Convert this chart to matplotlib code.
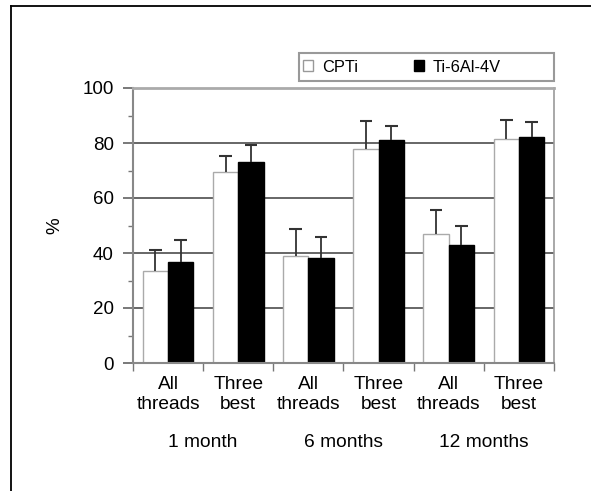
import matplotlib
matplotlib.use("Agg")
import matplotlib.pyplot as plt
import numpy as np
from matplotlib.patches import Rectangle, Patch
from matplotlib.lines import Line2D
from matplotlib.ticker import FixedLocator, NullFormatter
import matplotlib.transforms as mtransforms

plt.rcParams['font.family'] = ['Liberation Sans', 'DejaVu Sans']

categories = ["All\nthreads", "Three\nbest", "All\nthreads", "Three\nbest", "All\nthreads", "Three\nbest"]
periods = ["1 month", "6 months", "12 months"]
series_names = ["CPTi", "Ti-6Al-4V"]
cpti = [33.3, 69.6, 39.0, 77.7, 46.8, 81.5]
cpti_err = [7.8, 5.5, 9.8, 10.4, 8.7, 7.0]
ti = [36.7, 73.1, 38.2, 81.1, 42.9, 82.3]
ti_err = [8.0, 6.3, 7.6, 5.1, 7.0, 5.4]
yticks = [0, 20, 40, 60, 80, 100]

W, H = 591, 491
fig = plt.figure(figsize=(W / 100, H / 100), dpi=100)
ax = fig.add_axes([133 / W, 1 - 363 / H, (554 - 133) / W, (363 - 88) / H])

x = np.arange(len(categories))
bw = 0.36
cap = 0.09
ax.bar(x - bw / 2, cpti, bw, color='white', edgecolor='#aaaaaa', linewidth=1.0, zorder=2)
ax.bar(x + bw / 2, ti, bw, color='black', edgecolor='black', linewidth=1.0, zorder=2)

for xs, vals, errs in [(x - bw / 2, cpti, cpti_err), (x + bw / 2, ti, ti_err)]:
    vals = np.asarray(vals)
    tops = vals + np.asarray(errs)
    ax.vlines(xs, vals, tops, colors='#333333', linewidth=1.3, zorder=3)
    ax.hlines(tops, xs - cap, xs + cap, colors='#333333', linewidth=1.5, zorder=3)

ax.set_xlim(-0.5, len(categories) - 0.5)
ax.set_ylim(0, 100)
ax.set_axisbelow(True)

# y axis
ax.set_yticks(yticks)
ax.set_yticklabels([str(v) for v in yticks], fontsize=13.5)
ax.yaxis.set_minor_locator(FixedLocator([10, 30, 50, 70, 90]))
ax.tick_params(axis='y', which='major', direction='out', length=7.2, width=1.1,
               color='#555555', pad=6.5)
ax.tick_params(axis='y', which='minor', direction='out', length=3.5, width=1.0,
               color='#777777')
ax.yaxis.grid(True, which='major', color='#4d4d4d', linewidth=1.2, zorder=0)

# x axis: ticks at group boundaries, labels at centers
ax.xaxis.set_major_locator(FixedLocator(np.arange(-0.5, len(categories), 1.0)))
ax.xaxis.set_major_formatter(NullFormatter())
ax.xaxis.set_minor_locator(FixedLocator(x))
ax.set_xticklabels(categories, minor=True, fontsize=13.8, linespacing=1.25)
ax.tick_params(axis='x', which='major', direction='out', length=6, width=1.0,
               color='#777777')
ax.tick_params(axis='x', which='minor', length=0, pad=9.5)

for s in ['left', 'bottom']:
    ax.spines[s].set_color('#888888')
    ax.spines[s].set_linewidth(1.5)
ax.spines['right'].set_color('#999999')
ax.spines['right'].set_linewidth(1.2)
ax.spines['top'].set_color('#aaaaaa')
ax.spines['top'].set_linewidth(2.0)

ax.set_ylabel('%', fontsize=13.5)
ax.yaxis.set_label_coords(-0.165, 0.5)

# period labels
trans = mtransforms.blended_transform_factory(ax.transData, fig.transFigure)
for i, p in enumerate(periods):
    ax.text(2 * i + 0.5, 1 - 447 / H, p, transform=trans, ha='center', va='baseline',
            fontsize=13.8)

# legend
handles = [Patch(facecolor='white', edgecolor='#999999', linewidth=1.0, label=series_names[0]),
           Patch(facecolor='black', edgecolor='black', linewidth=1.0, label=series_names[1])]
fig.legend(handles=handles, ncol=2, loc='center left',
           bbox_to_anchor=(303 / W, 1 - 67 / H), bbox_transform=fig.transFigure,
           frameon=False, fontsize=11.8, handlelength=0.62, handleheight=0.62,
           handletextpad=0.55, columnspacing=3.4, borderpad=0, borderaxespad=0)
fig.patches.append(Rectangle((299 / W, 1 - 81 / H), (554 - 299) / W, (81 - 53) / H,
                             transform=fig.transFigure, facecolor='none',
                             edgecolor='#999999', linewidth=1.5))

# figure border (top and left only)
fig.lines.append(Line2D([11 / W, 1.0], [1 - 6 / H, 1 - 6 / H], transform=fig.transFigure,
                        color='black', linewidth=1.3))
fig.lines.append(Line2D([11 / W, 11 / W], [0, 1 - 6 / H], transform=fig.transFigure,
                        color='black', linewidth=1.3))

fig.savefig('out.png', dpi=100)
